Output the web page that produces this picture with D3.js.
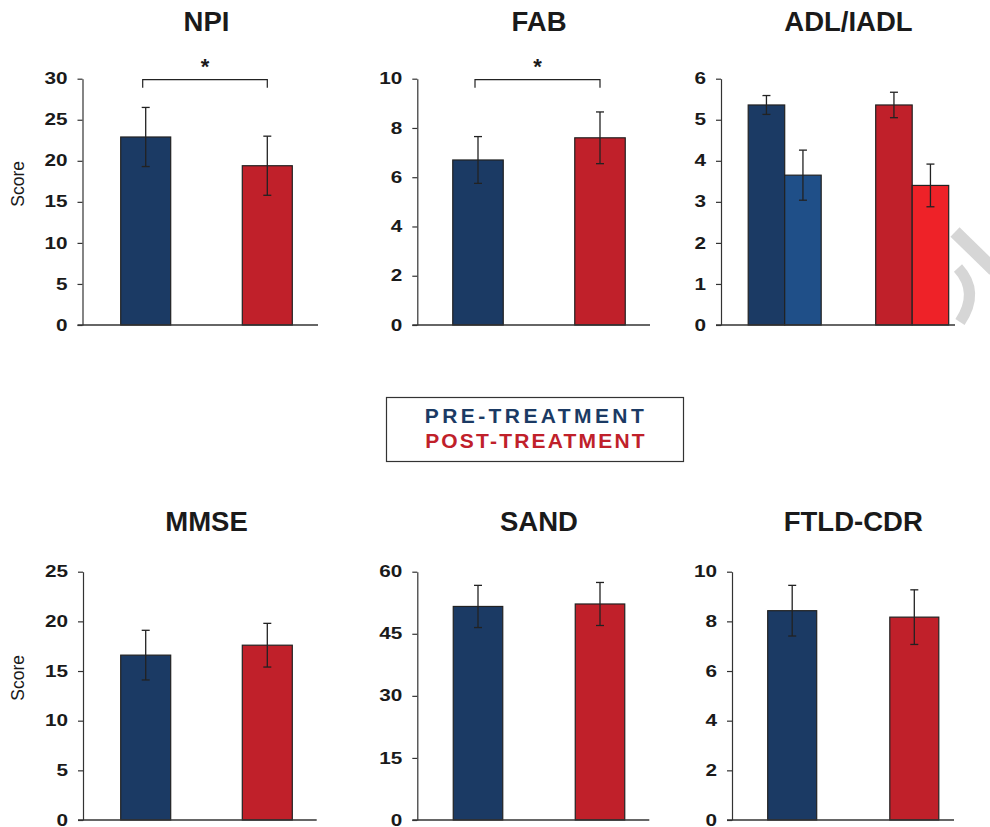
<!DOCTYPE html>
<html>
<head>
<meta charset="utf-8">
<script src="https://cdn.jsdelivr.net/npm/d3@7"></script>
<style>
  html, body { margin: 0; padding: 0; background: #fff; }
  svg { display: block; font-family: "Liberation Sans", Arial, Helvetica, sans-serif; }
</style>
</head>
<body>
<svg id="chart" width="990" height="827"></svg>
<script>
// ---------- DATA ----------
const panelNames = ["NPI", "FAB", "ADL/IADL", "MMSE", "SAND", "FTLD-CDR"];
const treatments = ["PRE-TREATMENT", "POST-TREATMENT"];
const npiMeans = [22.9, 19.4];
const npiErrors = [3.6, 3.6];
const fabMeans = [6.7, 7.6];
const fabErrors = [0.95, 1.05];
const adlSubscales = ["ADL", "IADL"];
const adlPreMeans = [5.36, 3.65];
const adlPreErrors = [0.23, 0.61];
const adlPostMeans = [5.36, 3.40];
const adlPostErrors = [0.31, 0.52];
const mmseMeans = [16.6, 17.6];
const mmseErrors = [2.5, 2.2];
const sandMeans = [51.6, 52.2];
const sandErrors = [5.1, 5.2];
const ftldMeans = [8.43, 8.17];
const ftldErrors = [1.02, 1.1];
const npiTicks = [0, 5, 10, 15, 20, 25, 30];
const fabTicks = [0, 2, 4, 6, 8, 10];
const adlTicks = [0, 1, 2, 3, 4, 5, 6];
const mmseTicks = [0, 5, 10, 15, 20, 25];
const sandTicks = [0, 15, 30, 45, 60];
const ftldTicks = [0, 2, 4, 6, 8, 10];
const significant = [true, true, false, false, false, false];

// ---------- STYLE ----------
const colPre = "#1b3a64";
const colPost = "#c0202a";
const colPre2 = "#1f4f88";
const colPost2 = "#ee2228";
const ink = "#222";
const tickStretch = 1.22;

const svg = d3.select("#chart");

// watermark fragment at right edge
svg.append("path").attr("d", "M955,232 L994,270").attr("stroke", "#d6d6d6").attr("stroke-width", 13).attr("fill", "none");
svg.append("path").attr("d", "M958,268 Q980,292 960,322").attr("stroke", "#d6d6d6").attr("stroke-width", 11).attr("fill", "none");

// ---------- LAYOUT ----------
const panels = [
  { name: panelNames[0], means: npiMeans, errs: npiErrors, ticks: npiTicks, axisX: 82.5, endX: 318, c: [145.7, 267.3], bw: 50, top: 78.7, bot: 325, titleY: 31, score: true },
  { name: panelNames[1], means: fabMeans, errs: fabErrors, ticks: fabTicks, axisX: 417.3, endX: 650, c: [478, 600], bw: 50.5, top: 78.7, bot: 325, titleY: 31 },
  { name: panelNames[2], adl: true, ticks: adlTicks, axisX: 721, endX: 955, c: [784.7, 912.2], bw: 36.5, top: 78.7, bot: 325, titleY: 31 },
  { name: panelNames[3], means: mmseMeans, errs: mmseErrors, ticks: mmseTicks, axisX: 83, endX: 316.7, c: [145.7, 267.3], bw: 50, top: 571.7, bot: 820, titleY: 531, score: true },
  { name: panelNames[4], means: sandMeans, errs: sandErrors, ticks: sandTicks, axisX: 417.3, endX: 649.3, c: [478, 600], bw: 49.5, top: 571.7, bot: 820, titleY: 531 },
  { name: panelNames[5], means: ftldMeans, errs: ftldErrors, ticks: ftldTicks, axisX: 732, endX: 954, c: [792.2, 914.3], bw: 49, top: 571.7, bot: 820, titleY: 531 }
];

panels.forEach((p, i) => {
  const g = svg.append("g");
  const y = d3.scaleLinear().domain([0, d3.max(p.ticks)]).range([p.bot, p.top]);
  const x = d3.scalePoint().domain(treatments).range(p.c);

  let bars = [];
  if (p.adl) {
    const sub = d3.scaleBand().domain(adlSubscales).range([-p.bw, p.bw]).padding(0);
    const preCols = [colPre, colPre2], postCols = [colPost, colPost2];
    adlSubscales.forEach((s, k) => {
      bars.push({ x0: x(treatments[0]) + sub(s), w: sub.bandwidth(), v: adlPreMeans[k], e: adlPreErrors[k], col: preCols[k] });
      bars.push({ x0: x(treatments[1]) + sub(s), w: sub.bandwidth(), v: adlPostMeans[k], e: adlPostErrors[k], col: postCols[k] });
    });
  } else {
    treatments.forEach((t, k) => {
      bars.push({ x0: x(t) - p.bw / 2, w: p.bw, v: p.means[k], e: p.errs[k], col: k === 0 ? colPre : colPost });
    });
  }

  g.selectAll("rect.bar").data(bars).enter().append("rect")
    .attr("class", "bar")
    .attr("x", d => d.x0).attr("width", d => d.w)
    .attr("y", d => y(d.v)).attr("height", d => y(0) - y(d.v))
    .attr("fill", d => d.col).attr("stroke", ink).attr("stroke-width", 1.2);

  const eb = g.selectAll("g.err").data(bars).enter().append("g").attr("class", "err");
  eb.append("line")
    .attr("x1", d => d.x0 + d.w / 2).attr("x2", d => d.x0 + d.w / 2)
    .attr("y1", d => y(d.v + d.e)).attr("y2", d => y(d.v - d.e))
    .attr("stroke", ink).attr("stroke-width", 1.3);
  ["+", "-"].forEach(sgn => {
    eb.append("line")
      .attr("x1", d => d.x0 + d.w / 2 - 4).attr("x2", d => d.x0 + d.w / 2 + 4)
      .attr("y1", d => y(sgn === "+" ? d.v + d.e : d.v - d.e))
      .attr("y2", d => y(sgn === "+" ? d.v + d.e : d.v - d.e))
      .attr("stroke", ink).attr("stroke-width", 1.3);
  });

  const axis = d3.axisLeft(y).tickValues(p.ticks).tickFormat(d3.format("d"))
    .tickSize(5).tickSizeOuter(0).tickPadding(10);
  const ag = g.append("g").attr("transform", `translate(${p.axisX},0)`).call(axis);
  ag.attr("font-size", null).attr("font-family", null);
  ag.select(".domain").attr("stroke", "#333").attr("stroke-width", 1.2);
  ag.selectAll(".tick line").attr("stroke", "#333").attr("stroke-width", 1.2);
  ag.selectAll(".tick text").attr("fill", "#1a1a1a").attr("font-size", 17).attr("font-weight", "bold")
    .attr("font-family", "'Liberation Sans', Arial, sans-serif")
    .attr("x", -15 / tickStretch).attr("dy", "0.3em")
    .attr("transform", `scale(${tickStretch},1)`);
  g.append("line").attr("x1", p.axisX - 5).attr("x2", p.endX)
    .attr("y1", y(0)).attr("y2", y(0)).attr("stroke", "#333").attr("stroke-width", 1.4);

  g.append("text").attr("x", (p.c[0] + p.c[1]) / 2).attr("y", p.titleY)
    .attr("text-anchor", "middle").attr("font-size", 27.5).attr("font-weight", "bold").attr("fill", "#1a1a1a")
    .text(p.name);

  if (p.score) {
    g.append("text")
      .attr("transform", `translate(24,${(p.top + p.bot) / 2 - 18}) rotate(-90)`)
      .attr("text-anchor", "middle").attr("font-size", 17.5).attr("fill", "#1a1a1a")
      .text("Score");
  }

  if (significant[i]) {
    const by = y(d3.max(p.ticks)) + 1;
    const xl = x(treatments[0]) - 3, xr = x(treatments[1]);
    g.append("path").attr("d", `M${xl},${by + 8} V${by} H${xr} V${by + 8}`)
      .attr("fill", "none").attr("stroke", ink).attr("stroke-width", 1.2);
    g.append("text").attr("x", (xl + xr) / 2).attr("y", by - 6)
      .attr("text-anchor", "middle").attr("font-size", 22).attr("font-weight", "bold").attr("fill", "#1a1a1a")
      .text("*");
  }
});

// legend
const lg = svg.append("g");
lg.append("rect").attr("x", 386.5).attr("y", 397.5).attr("width", 297).attr("height", 64)
  .attr("fill", "#fff").attr("stroke", "#333").attr("stroke-width", 1.2);
[colPre, colPost].forEach((c, k) => {
  lg.append("text").attr("x", 536).attr("y", 423 + k * 25)
    .attr("text-anchor", "middle").attr("font-size", 21).attr("font-weight", "bold")
    .attr("letter-spacing", k === 0 ? 3.4 : 2.2).attr("fill", c)
    .text(treatments[k]);
});
</script>
</body>
</html>
